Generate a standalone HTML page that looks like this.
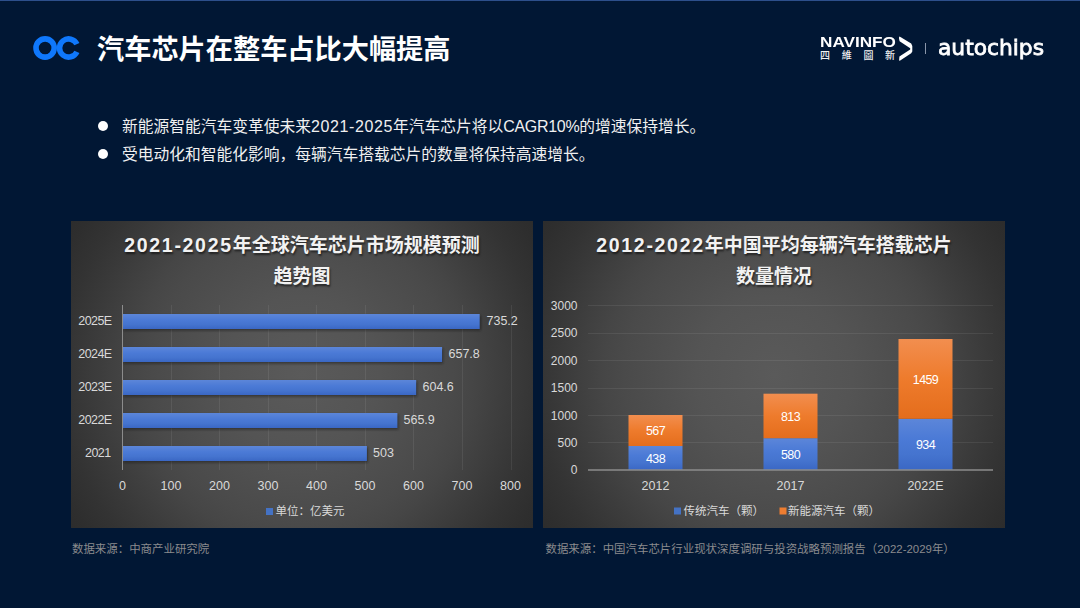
<!DOCTYPE html>
<html lang="zh-CN">
<head>
<meta charset="utf-8">
<title>汽车芯片在整车占比大幅提高</title>
<style>
*{margin:0;padding:0;box-sizing:border-box}
html,body{width:1080px;height:608px;overflow:hidden}
body{position:relative;background:#011734;font-family:"Liberation Sans","Noto Sans CJK SC",sans-serif;color:#fff}
.abs{position:absolute;white-space:nowrap}
#topline{left:0;top:0;width:1080px;height:1px;background:#2d4f8b}
#title{left:97px;top:32.2px;font-size:27.2px;line-height:36px;font-weight:bold;color:#fff;font-family:"Liberation Sans","Noto Sans CJK SC",sans-serif}
.bul{left:98px;width:10px;height:10px;border-radius:50%;background:#fff}
.btxt{left:122px;font-size:15.75px;line-height:20px;color:#f0f0f0;font-family:"Liberation Sans","Noto Sans CJK SC",sans-serif}
.chart{position:absolute;top:221px;width:462px;height:307px;overflow:hidden;
  background:radial-gradient(circle 280px at 50% 50%,#5a5a5a 0px,#545454 78px,#4a4a4a 150px,#464646 170px,#393939 217px,#333 240px,#2e2e2e 265px,#2c2c2c 280px)}
.ctitle{position:absolute;left:0;width:462px;text-align:center;font-size:19px;font-weight:bold;color:#f2f2f2;
  text-shadow:1px 1.5px 2px rgba(0,0,0,.55);font-family:"Liberation Sans","Noto Sans CJK SC",sans-serif;white-space:nowrap}
.lt{letter-spacing:1.7px;font-size:19.5px}
.src{font-size:11.45px;color:#8b8b8d;font-family:"Liberation Sans","Noto Sans CJK SC",sans-serif}
svg text{font-family:"Liberation Sans","Noto Sans CJK SC",sans-serif}
</style>
</head>
<body>
<div id="topline" class="abs"></div>

<!-- OC logo -->
<svg class="abs" style="left:30px;top:33px" width="52" height="30" viewBox="0 0 52 30">
  <circle cx="15.1" cy="15" r="9.1" fill="none" stroke="#0f78fc" stroke-width="5.6"/>
  <path d="M46.9 11.2 A9.1 9.1 0 1 0 46.9 18.8" fill="none" stroke="#0f78fc" stroke-width="5.6"/>
</svg>

<div id="title" class="abs">汽车芯片在整车占比大幅提高</div>

<!-- NAVINFO logo -->
<div class="abs" style="left:819.5px;top:34.5px;font-size:14px;line-height:14px;font-weight:bold;color:#fff;transform:scaleX(1.225);transform-origin:0 0;letter-spacing:0px">NAVINFO</div>
<div class="abs" style="left:820px;top:50.2px;font-size:10px;line-height:12px;color:#f2f2f2;letter-spacing:11.7px;font-weight:500;font-family:'Liberation Sans','Noto Sans CJK TC',sans-serif">四維圖新</div>
<svg class="abs" style="left:896px;top:34px" width="20" height="30" viewBox="896 34 20 30">
  <path d="M899.6 36.4 Q898.8 36.9 899 38.6 L899.6 41.2 L910.2 48.2 L910.2 49.6 L899.4 56.4 L899.1 60.2 Q899.3 61 900.2 60.5 L911.2 53.2 L912.3 51.6 L912.3 45.9 L911.2 43.6 Z" fill="#fff"/>
</svg>
<div class="abs" style="left:925px;top:43px;width:1px;height:11px;background:#8a96aa"></div>
<div class="abs" style="left:937.6px;top:32.6px;font-family:'DejaVu Sans',sans-serif;font-size:22px;line-height:30px;font-weight:normal;color:#fff;-webkit-text-stroke:0.8px #fff;transform:scaleX(0.99);transform-origin:0 0">autochips</div>

<!-- bullets -->
<div class="abs bul" style="top:121.4px"></div>
<div class="abs btxt" style="top:117px">新能源智能汽车变革使未来<span style="font-size:16px;letter-spacing:0.6px">2021-2025</span>年汽车芯片将以<span style="font-size:16px;letter-spacing:-0.3px">CAGR10%</span>的增速保持增长。</div>
<div class="abs bul" style="top:149.3px"></div>
<div class="abs btxt" style="top:145.1px">受电动化和智能化影响，每辆汽车搭载芯片的数量将保持高速增长。</div>

<!-- LEFT CHART -->
<div class="chart" style="left:71px">
  <div class="ctitle" style="top:8.7px;line-height:31.6px"><span class="lt">2021-2025</span>年全球汽车芯片市场规模预测<br>趋势图</div>
  <svg style="position:absolute;left:0;top:0" width="462" height="307" viewBox="71 221 462 307">
    <defs>
      <linearGradient id="gb" x1="0" y1="0" x2="0" y2="1">
        <stop offset="0" stop-color="#5c86d9"/>
        <stop offset="0.4" stop-color="#4b7ad6"/>
        <stop offset="0.7" stop-color="#4574cf"/>
        <stop offset="1" stop-color="#3a67c4"/>
      </linearGradient>
      <filter id="blr" x="-5%" y="-50%" width="110%" height="200%"><feGaussianBlur stdDeviation="1"/></filter>
    </defs>
    <g stroke="rgba(255,255,255,0.075)" stroke-width="1">
      <line x1="171.5" y1="305" x2="171.5" y2="470"/>
      <line x1="219.5" y1="305" x2="219.5" y2="470"/>
      <line x1="268.5" y1="305" x2="268.5" y2="470"/>
      <line x1="316.5" y1="305" x2="316.5" y2="470"/>
      <line x1="365.5" y1="305" x2="365.5" y2="470"/>
      <line x1="413.5" y1="305" x2="413.5" y2="470"/>
      <line x1="462.5" y1="305" x2="462.5" y2="470"/>
      <line x1="511.5" y1="305" x2="511.5" y2="470"/>
    </g>
    <g fill="#141414" opacity="0.55" filter="url(#blr)">
      <rect x="123.5" y="315.5" width="357.2" height="15"/>
      <rect x="123.5" y="348.5" width="319.6" height="15"/>
      <rect x="123.5" y="381.5" width="293.7" height="15"/>
      <rect x="123.5" y="414.5" width="274.9" height="15"/>
      <rect x="123.5" y="447.5" width="244.4" height="15"/>
    </g>
    <g fill="url(#gb)">
      <rect x="122.5" y="314" width="357.2" height="15"/>
      <rect x="122.5" y="347" width="319.6" height="15"/>
      <rect x="122.5" y="380" width="293.7" height="15"/>
      <rect x="122.5" y="413" width="274.9" height="15"/>
      <rect x="122.5" y="446" width="244.4" height="15"/>
    </g>
    <line x1="122.5" y1="305" x2="122.5" y2="470" stroke="#8c8c8c" stroke-width="1"/>
    <g fill="#d9d9d9" font-size="12.5" text-anchor="end" letter-spacing="-0.6">
      <text x="111.5" y="325">2025E</text>
      <text x="111.5" y="358">2024E</text>
      <text x="111.5" y="391">2023E</text>
      <text x="111.5" y="424">2022E</text>
      <text x="110.5" y="457">2021</text>
    </g>
    <g fill="#d9d9d9" font-size="12.5">
      <text x="486.5" y="325">735.2</text>
      <text x="448.5" y="358">657.8</text>
      <text x="422.5" y="391">604.6</text>
      <text x="403.5" y="424">565.9</text>
      <text x="373" y="457">503</text>
    </g>
    <g fill="#d9d9d9" font-size="12.5" text-anchor="middle">
      <text x="122.5" y="490">0</text>
      <text x="171" y="490">100</text>
      <text x="219.5" y="490">200</text>
      <text x="268" y="490">300</text>
      <text x="316.5" y="490">400</text>
      <text x="365" y="490">500</text>
      <text x="413.5" y="490">600</text>
      <text x="462" y="490">700</text>
      <text x="510.5" y="490">800</text>
    </g>
    <rect x="266" y="508" width="7" height="7" fill="#4472c4"/>
    <text x="275.5" y="514.8" font-size="11.5" fill="#d9d9d9">单位：亿美元</text>
  </svg>
</div>

<!-- RIGHT CHART -->
<div class="chart" style="left:543px">
  <div class="ctitle" style="top:8.7px;line-height:31.6px"><span class="lt">2012-2022</span>年中国平均每辆汽车搭载芯片<br>数量情况</div>
  <svg style="position:absolute;left:0;top:0" width="462" height="307" viewBox="543 221 462 307">
    <defs>
      <linearGradient id="gb2" x1="0" y1="0" x2="0" y2="1">
        <stop offset="0" stop-color="#5c86d9"/>
        <stop offset="0.4" stop-color="#4b7ad6"/>
        <stop offset="0.7" stop-color="#4574cf"/>
        <stop offset="1" stop-color="#3a67c4"/>
      </linearGradient>
      <linearGradient id="go" x1="0" y1="0" x2="0" y2="1">
        <stop offset="0" stop-color="#f28e4f"/>
        <stop offset="0.5" stop-color="#ee7b2c"/>
        <stop offset="1" stop-color="#e46d1c"/>
      </linearGradient>
    </defs>
    <g stroke="rgba(255,255,255,0.075)" stroke-width="1">
      <line x1="588" y1="305.5" x2="993" y2="305.5"/>
      <line x1="588" y1="333.5" x2="993" y2="333.5"/>
      <line x1="588" y1="360.5" x2="993" y2="360.5"/>
      <line x1="588" y1="388.5" x2="993" y2="388.5"/>
      <line x1="588" y1="415.5" x2="993" y2="415.5"/>
      <line x1="588" y1="442.5" x2="993" y2="442.5"/>
    </g>
    <!-- bars -->
    <rect x="628.5" y="446" width="54" height="24" fill="url(#gb2)"/>
    <rect x="628.5" y="415" width="54" height="31" fill="url(#go)"/>
    <rect x="763.5" y="438.2" width="54" height="31.8" fill="url(#gb2)"/>
    <rect x="763.5" y="393.7" width="54" height="44.5" fill="url(#go)"/>
    <rect x="898.5" y="418.8" width="54" height="51.2" fill="url(#gb2)"/>
    <rect x="898.5" y="339" width="54" height="79.8" fill="url(#go)"/>
    <line x1="588" y1="470" x2="993" y2="470" stroke="#8c8c8c" stroke-width="1.5"/>
    <g fill="#d9d9d9" font-size="12" text-anchor="end">
      <text x="577.5" y="309.5">3000</text>
      <text x="577.5" y="337">2500</text>
      <text x="577.5" y="364.5">2000</text>
      <text x="577.5" y="392">1500</text>
      <text x="577.5" y="419.5">1000</text>
      <text x="577.5" y="446.5">500</text>
      <text x="577.5" y="474">0</text>
    </g>
    <g fill="#fff" font-size="12.5" text-anchor="middle" letter-spacing="-0.6">
      <text x="655.5" y="435">567</text>
      <text x="655.5" y="463">438</text>
      <text x="790.5" y="420.5">813</text>
      <text x="790.5" y="458.5">580</text>
      <text x="925.5" y="383.5">1459</text>
      <text x="925.5" y="449">934</text>
    </g>
    <g fill="#d9d9d9" font-size="12.5" text-anchor="middle">
      <text x="655.5" y="490">2012</text>
      <text x="790.5" y="490">2017</text>
      <text x="925.5" y="490">2022E</text>
    </g>
    <rect x="674" y="507.5" width="7" height="7" fill="#4472c4"/>
    <text x="683.5" y="515" font-size="11.5" fill="#d9d9d9">传统汽车（颗）</text>
    <rect x="779.5" y="507.5" width="7" height="7" fill="#ed7d31"/>
    <text x="788" y="515" font-size="11.5" fill="#d9d9d9">新能源汽车（颗）</text>
  </svg>
</div>

<div class="abs src" style="left:72px;top:540px">数据来源：中商产业研究院</div>
<div class="abs src" style="left:545.5px;top:539.5px">数据来源：中国汽车芯片行业现状深度调研与投资战略预测报告（2022-2029年）</div>
</body>
</html>
